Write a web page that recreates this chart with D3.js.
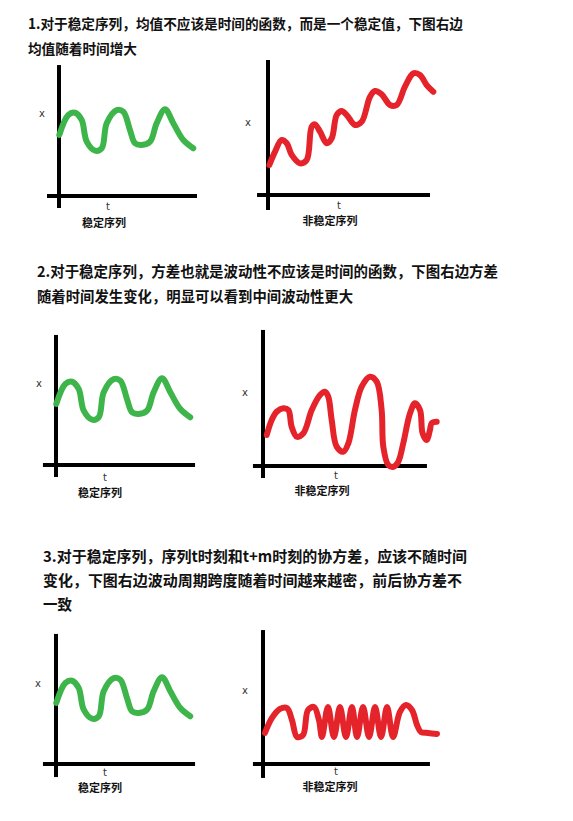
<!DOCTYPE html>
<html><head><meta charset="utf-8">
<script src="https://cdn.jsdelivr.net/npm/d3@7"></script>
<style>body{margin:0;background:#fff}svg{display:block}</style>
</head><body><svg id="c" width="573" height="821"></svg>
<script>
// ---------- text ----------
const section1Lines = ["1.对于稳定序列，均值不应该是时间的函数，而是一个稳定值，下图右边", "均值随着时间增大"];
const section2Lines = ["2.对于稳定序列，方差也就是波动性不应该是时间的函数，下图右边方差", "随着时间发生变化，明显可以看到中间波动性更大"];
const section3Lines = ["3.对于稳定序列，序列t时刻和t+m时刻的协方差，应该不随时间", "变化，下图右边波动周期跨度随着时间越来越密，前后协方差不", "一致"];
const captions = ["稳定序列", "非稳定序列"];
const axisLabels = ["x", "t"];

// ---------- series (t, x) ----------
const stationaryT = [0.2, 6.2, 10.7, 15.1, 18.5, 24, 28.5, 31.8, 38.5, 42.9, 47.3, 50.7, 55.1, 60.7, 65.1, 70.7, 76.2, 82.9, 89.5];
const stationaryX = [40.7, 54, 55.5, 50.7, 36.2, 30.2, 31.8, 48.5, 57.3, 56.2, 44, 35.1, 34, 36.2, 48.5, 57.8, 48.5, 37.3, 31.8];

const meanT = [0.9, 4.7, 9.1, 12.5, 15.8, 21.3, 25.8, 29.1, 31.3, 34.7, 39.1, 42.5, 45.8, 49.1, 52.5, 58, 62.5, 68, 71.3, 75.8, 81.3, 85.8, 91.3, 96.9, 101.3, 105.8, 110.2];
const meanX = [20, 28.9, 36.7, 34.5, 26.7, 21.1, 23.3, 45.5, 47.1, 42.2, 34.5, 37.8, 53.3, 56, 53.3, 46.7, 48.9, 65.5, 69.3, 67.1, 60, 60, 72.2, 81.1, 80, 73.3, 68.9];

const varianceT = [2.5, 5.8, 9.1, 13.5, 16.9, 19.1, 22.5, 26.9, 32.5, 38, 41.3, 43.5, 45.8, 49.1, 53.5, 56.9, 61.3, 65.8, 71.3, 75.8, 79.1, 80.2, 83.5, 86.9, 90.2, 93.5, 98, 101.3, 104.7, 106.4, 109.1, 111.3, 112.4, 115.8];
const varianceX = [20.7, 30.7, 36.2, 38.5, 37.3, 26.2, 19.5, 21.8, 37.3, 47.3, 49.5, 46.2, 30.7, 12.9, 9.5, 15.1, 37.3, 52.9, 59.5, 56.2, 37.3, 12.9, 0.7, -0.5, 2.9, 15.1, 35.1, 41.8, 37.3, 21.8, 17.3, 24, 28.5, 29.5];

const covarianceT = [1.3, 6, 11.3, 16, 19.3, 22.7, 26.7, 30, 34, 37.3, 39.3, 43.3, 47.3, 51.3, 55.3, 59.3, 62.7, 66.7, 70.7, 74.7, 78.7, 82.7, 86.7, 91.3, 95.3, 99.3, 102.7, 105.3, 110, 116];
const covarianceX = [20.7, 30.7, 36.7, 37.3, 29.3, 18, 19.3, 36, 38, 29.3, 18, 38, 18, 38, 18, 38, 18, 38, 18, 38, 18, 38, 18, 34.7, 39.3, 36, 26, 21.3, 20.7, 20];

const zip = (ts, xs) => ts.map((t, i) => ({t, x: xs[i]}));
const stationary = zip(stationaryT, stationaryX);

// ---------- layout ----------
const GREEN = "#3db54a", RED = "#e5232a";
const panels = [
  {vx: 59,  hy: 196, h: [-8, 92],   v: [-8, 87.3], data: stationary, color: GREEN, cap: 0, xl: [42, 113], tl: [108, 206], cl: [104, 222]},
  {vx: 268, hy: 195, h: [-7.3, 108], v: [-10, 90], data: zip(meanT, meanX), color: RED, cap: 1, xl: [248, 122], tl: [339, 205], cl: [330, 220]},
  {vx: 56,  hy: 465, h: [-8.7, 92.7], v: [-8, 86.7], data: stationary, color: GREEN, cap: 0, xl: [39, 383], tl: [105, 477], cl: [100, 492]},
  {vx: 263, hy: 466, h: [-6.7, 109.3], v: [-8, 90.7], data: zip(varianceT, varianceX), color: RED, cap: 1, xl: [245, 392], tl: [336, 475], cl: [322, 490]},
  {vx: 56,  hy: 764, h: [-8.7, 92.7], v: [-8.7, 86.7], data: stationary, color: GREEN, cap: 0, xl: [38, 683], tl: [105, 772], cl: [100, 787]},
  {vx: 263, hy: 764, h: [-6.7, 111.3], v: [-9.3, 89.3], data: zip(covarianceT, covarianceX), color: RED, cap: 1, xl: [245, 690], tl: [336, 771], cl: [330, 786]}
];
const sections = [
  {lines: section1Lines, x: 28, ys: [23, 48], ends: [463, 137], size: 14},
  {lines: section2Lines, x: 37, ys: [270, 295], ends: [498, 353], size: 14.5},
  {lines: section3Lines, x: 43, ys: [555, 579, 603], ends: [467, 462, 72], size: 15}
];

const svg = d3.select("#c");
svg.append("rect").attr("width", 573).attr("height", 821).attr("fill", "#fff");
const FONT = "'Noto Sans CJK SC', 'Microsoft YaHei', sans-serif";

sections.forEach(s => {
  s.lines.forEach((line, i) => {
    svg.append("text")
      .attr("x", s.x).attr("y", s.ys[i])
      .attr("dominant-baseline", "central")
      .attr("font-family", FONT).attr("font-weight", "bold")
      .attr("font-size", s.size).attr("fill", "#111")
      .attr("textLength", s.ends[i] - s.x).attr("lengthAdjust", "spacingAndGlyphs")
      .text(line);
  });
});

panels.forEach(p => {
  const tScale = d3.scaleLinear().domain([0, 100]).range([p.vx, p.vx + 150]);
  const xScale = d3.scaleLinear().domain([0, 100]).range([p.hy, p.hy - 150]);
  const g = svg.append("g");
  // axes
  g.append("line").attr("x1", tScale(p.h[0])).attr("x2", tScale(p.h[1]))
    .attr("y1", xScale(0)).attr("y2", xScale(0))
    .attr("stroke", "#000").attr("stroke-width", 4);
  g.append("line").attr("x1", tScale(0)).attr("x2", tScale(0))
    .attr("y1", xScale(p.v[0])).attr("y2", xScale(p.v[1]))
    .attr("stroke", "#000").attr("stroke-width", 4);
  // curve
  const line = d3.line().x(d => tScale(d.t)).y(d => xScale(d.x)).curve(d3.curveCatmullRom.alpha(0.5));
  g.append("path").datum(p.data).attr("d", line)
    .attr("fill", "none").attr("stroke", p.color).attr("stroke-width", 6)
    .attr("stroke-linecap", "round").attr("stroke-linejoin", "round");
  // labels
  g.append("text").attr("x", p.xl[0]).attr("y", p.xl[1]).attr("text-anchor", "middle")
    .attr("dominant-baseline", "central").attr("font-family", "'DejaVu Sans', sans-serif")
    .attr("font-size", 10).attr("fill", "#333").text(axisLabels[0]);
  g.append("text").attr("x", p.tl[0]).attr("y", p.tl[1]).attr("text-anchor", "middle")
    .attr("dominant-baseline", "central").attr("font-family", "'DejaVu Sans', sans-serif")
    .attr("font-size", 10).attr("fill", "#333").text(axisLabels[1]);
  g.append("text").attr("x", p.cl[0]).attr("y", p.cl[1]).attr("text-anchor", "middle")
    .attr("dominant-baseline", "central").attr("font-family", FONT).attr("font-weight", "bold")
    .attr("font-size", 11).attr("fill", "#111").text(captions[p.cap]);
});
</script>
</body></html>
